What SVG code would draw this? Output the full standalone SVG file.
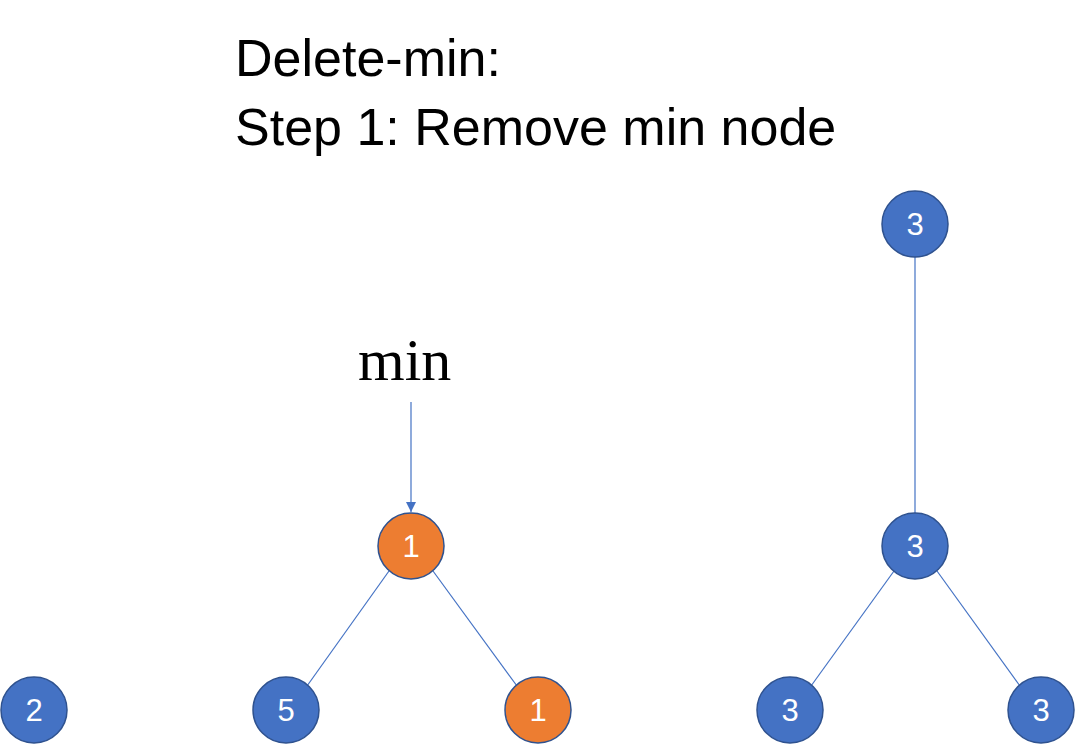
<svg xmlns="http://www.w3.org/2000/svg" width="1076" height="754" viewBox="0 0 1076 754">
<style>
.t{font-family:"Liberation Sans",Arial,sans-serif;fill:#000}
.b{fill:#4472C4;stroke:#2F528F;stroke-width:1.5}
.o{fill:#ED7D31;stroke:#2F528F;stroke-width:1.5}
.l{font-family:"Liberation Sans",Arial,sans-serif;font-size:31px;fill:#fff;text-anchor:middle}
.e{stroke:#4472C4;stroke-width:1.2;fill:none}
</style>
<defs>
<marker id="ah" viewBox="0 0 10 10" refX="10" refY="5" markerWidth="10" markerHeight="10" markerUnits="userSpaceOnUse" orient="auto">
<path d="M0,0 L10,5 L0,10 z" fill="#4472C4"/>
</marker>
</defs>
<rect width="1076" height="754" fill="#fff"/>
<text class="t" x="235" y="76" font-size="52">Delete-min:</text>
<text class="t" x="235" y="145" font-size="52">Step 1: Remove min node</text>
<text x="358" y="380" font-family="'Liberation Serif','Times New Roman',serif" font-size="60">min</text>
<g id="connectors">
<line class="e" x1="411" y1="402" x2="411" y2="512" marker-end="url(#ah)"/>
<line class="e" x1="389" y1="571" x2="307" y2="686"/>
<line class="e" x1="433" y1="571" x2="517" y2="686"/>
<line class="e" x1="915" y1="257" x2="915" y2="513"/>
<line class="e" x1="894" y1="571" x2="811" y2="686"/>
<line class="e" x1="937" y1="571" x2="1020" y2="686"/>
</g>
<g id="n2"><circle class="b" cx="34" cy="710" r="33"/><text class="l" x="34" y="721">2</text></g>
<g id="n5"><circle class="b" cx="286" cy="710" r="33"/><text class="l" x="286" y="721">5</text></g>
<g id="n1top"><circle class="o" cx="411" cy="546" r="33"/><text class="l" x="411" y="557">1</text></g>
<g id="n1bot"><circle class="o" cx="538" cy="710" r="33"/><text class="l" x="538" y="721">1</text></g>
<g id="n3top"><circle class="b" cx="915" cy="224" r="33"/><text class="l" x="915" y="235">3</text></g>
<g id="n3mid"><circle class="b" cx="915" cy="546" r="33"/><text class="l" x="915" y="557">3</text></g>
<g id="n3left"><circle class="b" cx="790" cy="710" r="33"/><text class="l" x="790" y="721">3</text></g>
<g id="n3right"><circle class="b" cx="1041" cy="710" r="33"/><text class="l" x="1041" y="721">3</text></g>
</svg>
